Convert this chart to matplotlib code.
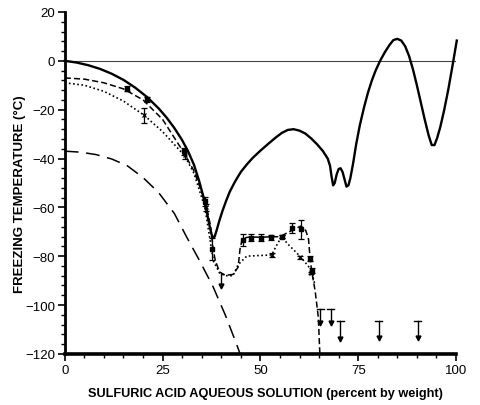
import matplotlib
matplotlib.use("Agg")
import matplotlib.pyplot as plt
from matplotlib.ticker import MultipleLocator

plt.rcParams['font.family'] = ['Liberation Sans', 'DejaVu Sans']

# solid curve: freezing points of the phase diagram
solid_x = [0, 3, 6, 9, 12, 15, 18, 21, 24, 26, 28, 30, 31.5, 33, 34.3, 35.4, 36.3, 37,
           37.5, 37.9, 38.3, 38.8, 39.5, 40.3, 41.2, 42.2, 43.5, 45, 46.5, 48, 50, 52,
           54, 55.5, 57, 58.5, 60, 61.5, 63, 64.5, 66, 67.2, 67.8, 68.2, 68.6, 69, 69.5,
           70, 70.5, 71, 71.5, 72, 72.5, 73, 73.7, 74.5, 75.4, 76.5, 77.5, 78.5, 79.5,
           80.6, 81.8, 83, 84, 85, 86, 87, 88, 89, 90, 91, 92, 93, 93.8, 94.5, 95.2, 96,
           97, 98, 99, 100.2]
solid_y = [0, -0.7, -1.8, -3.3, -5.3, -7.8, -11, -14.8, -19.5, -23.2, -27.5, -32.5, -37,
           -42.5, -49, -55.5, -62, -67.5, -71, -72.5, -72, -69.5, -65.5, -61.5, -57.5,
           -53.5, -49.5, -45.5, -42.5, -39.8, -36.8, -34, -31.3, -29.5, -28.3, -28,
           -28.6, -29.8, -31.8, -34.2, -37, -40, -43, -47.5, -51, -50, -46.5, -44.3, -44,
           -45.5, -48.5, -51.5, -51, -48, -42, -34, -26.5, -19, -13, -8, -3.8, 0, 3.5,
           6.5, 8.5, 9, 8.3, 6, 2, -3.5, -10, -17, -24, -30.5, -34.5, -34.5, -31.5, -27,
           -20, -12, -3, 8.3]

# long dashed curve
long_x = [0, 4, 8, 12, 16, 20, 24, 28, 31.1, 34.5, 37.9, 41, 43.9, 44.8]
long_y = [-37, -37.4, -38.4, -40.2, -43, -47.8, -54, -62.5, -72, -82, -92.5, -104, -116, -120]

# dashed curve
dash_x = [0, 5, 10, 15, 20, 25, 30, 33, 36, 37.3, 37.9, 38.5, 39.6, 41, 43, 44.3, 44.8,
          45.4, 47, 50, 55, 58, 60.4, 61.6, 62.3, 62.7, 63.1, 64, 64.8, 65.2]
dash_y = [-7, -7.5, -9, -11.5, -16, -24, -36.5, -45, -58, -68, -77, -82, -86.5, -87.8,
          -87.5, -84.5, -77, -72.7, -72.2, -72.2, -72, -69.5, -67.6, -69.5, -73, -80.8,
          -86, -94.3, -105, -120]

# dotted curve
dot_x = [0, 5, 10, 15, 20.3, 25, 30.7, 33, 35.8, 37, 38, 39.6, 41, 43, 44.3, 46.5,
         49, 52.9, 54, 55.4, 57, 60.1, 62.2, 63.1, 64]
dot_y = [-9, -10, -12.5, -16.5, -22.3, -29, -39, -46, -60, -72, -82, -87, -88, -88,
         -83.5, -80, -79.8, -79.5, -76, -72, -75, -80, -84, -86.5, -92]

# measured points on the dashed curve
dpt_x = [15.8, 21, 30.4, 35.8, 37.5, 45.6, 47.7, 50.2, 52.8, 55.4, 58, 60.4, 62.7, 63.1]
dpt_y = [-11.4, -15.8, -37, -57.6, -77, -73.5, -72.4, -72.4, -72.2, -72, -68.6, -69, -81, -86]
dpt_err = [1, 1, 1.5, 2, 4.5, 2.5, 1.5, 1.5, 1, 0.5, 2, 4, 1, 1]

# measured points on the dotted curve
xpt_x = [20.3, 30.7, 36, 53, 55.4, 60, 63]
xpt_y = [-22.3, -38.5, -60, -79.5, -72, -80.5, -87]
xpt_err = [3, 1.5, 1.5, 1, 0.5, 0.5, 0.5]

# upper limits (top of bar, arrow tip)
lim_x = [40, 65.3, 68, 70.4, 80.3, 90.2]
lim_top = [-87, -101.6, -101.6, -106.7, -106.5, -106.5]
lim_tip = [-93, -108, -108, -114.4, -114, -114]

fig = plt.figure(figsize=(4.8, 4.06), dpi=100)
ax = fig.add_axes([0.135, 0.126, 0.815, 0.842])

ax.axhline(0, xmin=0, xmax=1, color='#444444', lw=0.8)
ax.plot(solid_x, solid_y, color='black', lw=1.7, clip_on=False)
ax.plot(long_x, long_y, color='black', lw=1.1, dashes=(9, 5))
ax.plot(dash_x, dash_y, color='black', lw=1.1, dashes=(4, 2))
ax.plot(dot_x, dot_y, color='black', lw=1.2, dashes=(1, 1.5))

ax.errorbar(dpt_x, dpt_y, yerr=dpt_err, fmt='s', ms=2.5, color='black',
            elinewidth=0.9, capsize=2.5, capthick=0.9)
ax.errorbar(xpt_x, xpt_y, yerr=xpt_err, fmt='x', ms=3.5, color='black',
            elinewidth=0.9, capsize=2.5, capthick=0.9, mew=0.9)

for x, t, b in zip(lim_x, lim_top, lim_tip):
    ax.plot([x, x], [t, b + 1], color='black', lw=1)
    if x > 41:
        ax.plot([x - 0.9, x + 0.9], [t, t], color='black', lw=1)
    ax.plot(x, b + 0.6, marker='v', ms=3.5, color='black')

ax.set_xlim(0, 100)
ax.set_ylim(-120, 20)
ax.xaxis.set_major_locator(MultipleLocator(25))
ax.xaxis.set_minor_locator(MultipleLocator(5))
ax.yaxis.set_major_locator(MultipleLocator(20))
ax.yaxis.set_minor_locator(MultipleLocator(4))

ax.spines['top'].set_visible(False)
ax.spines['right'].set_visible(False)
ax.spines['left'].set_linewidth(2)
ax.spines['bottom'].set_linewidth(2.6)
ax.tick_params(which='major', length=5, width=1.2, labelsize=9.5, pad=2)
ax.tick_params(which='minor', length=3, width=1)

ax.set_xlabel('SULFURIC ACID AQUEOUS SOLUTION (percent by weight)',
              fontsize=9.2, fontweight='bold')
ax.set_ylabel('FREEZING TEMPERATURE (°C)', fontsize=9.5, fontweight='bold')
ax.xaxis.set_label_coords(0.512, -0.098)
ax.yaxis.set_label_coords(-0.1, 0.47)

fig.savefig('out.png', dpi=100)
